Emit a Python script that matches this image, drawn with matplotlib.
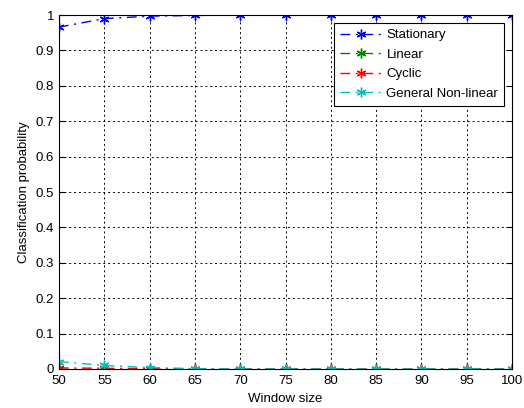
import numpy as np
import matplotlib.pyplot as plt

plt.rcParams['font.family'] = ['Liberation Sans', 'DejaVu Sans']

window = [50, 55, 60, 65, 70, 75, 80, 85, 90, 95, 100]
stationary = [0.966, 0.990, 0.997, 0.999, 1.0, 1.0, 1.0, 1.0, 1.0, 1.0, 1.0]
linear = [0.0, 0.0, 0.0, 0.0, 0.0, 0.0, 0.0, 0.0, 0.0, 0.0, 0.0]
cyclic = [0.003, 0.002, 0.001, 0.0, 0.0, 0.0, 0.0, 0.0, 0.0, 0.0, 0.0]
nonlinear = [0.021, 0.010, 0.004, 0.001, 0.0, 0.0, 0.0, 0.0, 0.0, 0.0, 0.0]

series = [
    ('Stationary', stationary, '#0000ff'),
    ('Linear', linear, '#008000'),
    ('Cyclic', cyclic, '#ff0000'),
    ('General Non-linear', nonlinear, '#00bfbf'),
]

fig = plt.figure(figsize=(5.24, 4.08), dpi=100)
ax = fig.add_axes([0.1126, 0.0956, 0.8645, 0.8674])

# matlab-style dash-dot lines with asterisk markers
for name, vals, col in series:
    ax.plot(window, vals, color=col, lw=1, dashes=(7, 4, 1.5, 4),
            marker=(6, 2, 0), ms=7, mew=1, label=name)

ax.set_xlim(50, 100)
ax.set_ylim(0, 1)
ax.set_xticks(window)
ax.set_yticks(np.arange(0, 1.01, 0.1))
ax.set_yticklabels(['0', '0.1', '0.2', '0.3', '0.4', '0.5', '0.6', '0.7', '0.8', '0.9', '1'])
ax.grid(True, color='black', linestyle=(0, (2, 3)), linewidth=0.7)
ax.tick_params(direction='in', labelsize=9.5, top=True, right=True, length=4)
ax.tick_params(axis='x', pad=4.5)
ax.tick_params(axis='y', pad=3.5)
ax.set_xlabel('Window size', fontsize=9.5, labelpad=4)
ax.set_ylabel('Classification probability', fontsize=9.5)

leg = ax.legend(loc='upper right', fontsize=9.5, fancybox=False, framealpha=1,
                edgecolor='black', borderaxespad=0.6, handlelength=3.2,
                handletextpad=0.3, labelspacing=0.55, borderpad=0.45)
leg.get_frame().set_linewidth(0.8)

fig.savefig('out.png', dpi=100)
